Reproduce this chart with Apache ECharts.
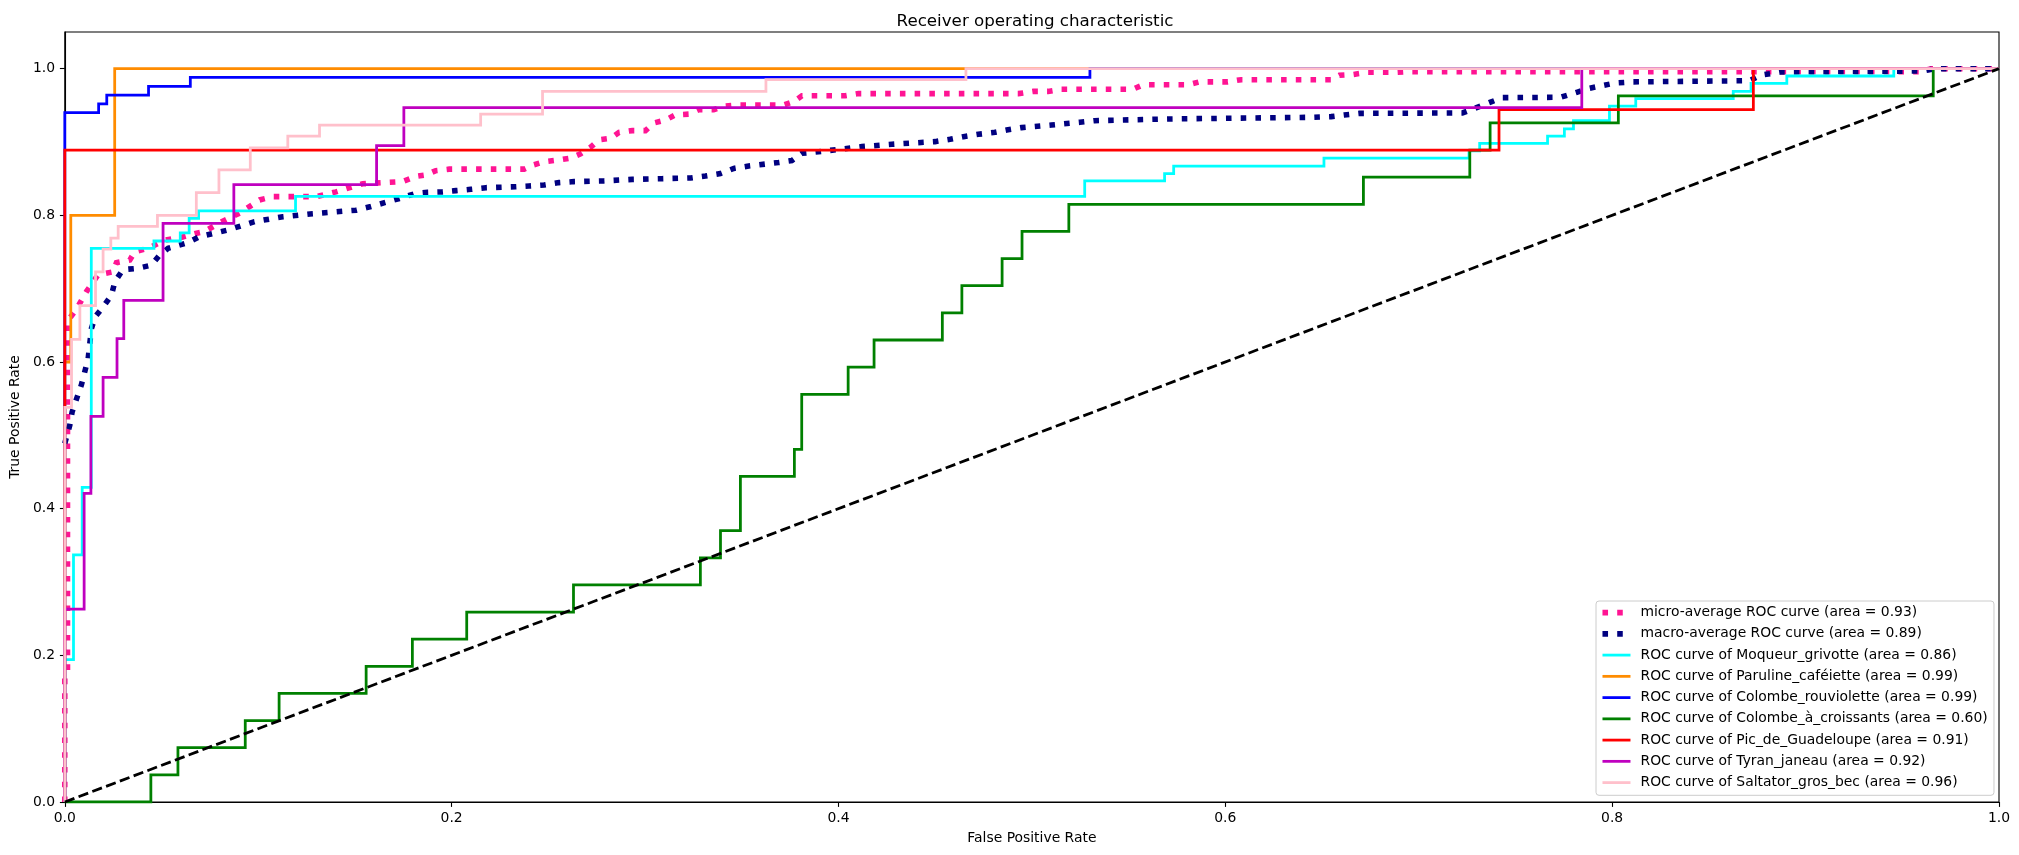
<!DOCTYPE html>
<html>
<head>
<meta charset="utf-8">
<script src="https://cdn.jsdelivr.net/npm/echarts@6/dist/echarts.min.js"></script>
<style>
html,body{margin:0;padding:0;background:#fff;}
#chart{width:2019px;height:855px;}
</style>
</head>
<body>
<div id="chart"></div>
<script>
// ---- data ----
const xTicks = [0, 0.2, 0.4, 0.6, 0.8, 1.0];
const yTicks = [0, 0.2, 0.4, 0.6, 0.8, 1.0];

const microFpr = [0,0,0.0014,0.0014,0.0026,0.006,0.0112,0.0172,0.025,0.0267,0.0336,0.0362,0.043,0.0517,0.061,0.0671,0.0723,0.0809,0.0904,0.1007,0.1076,0.13,0.1402,0.1489,0.154,0.1747,0.1815,0.1867,0.1918,0.1988,0.2375,0.2426,0.2478,0.2555,0.2615,0.2667,0.2719,0.2762,0.2822,0.2865,0.2934,0.3002,0.3046,0.3106,0.3157,0.3226,0.3278,0.3355,0.3415,0.3484,0.3717,0.3768,0.3811,0.4035,0.4104,0.493,0.5007,0.5084,0.5153,0.5523,0.5575,0.5807,0.5867,0.6013,0.6082,0.6547,0.659,0.6658,0.6736,0.6882,0.6942,0.96,0.965,1];
const microTpr = [0,0.17,0.18,0.655,0.66,0.672,0.696,0.719,0.723,0.7355,0.739,0.7505,0.755,0.766,0.7705,0.775,0.778,0.791,0.803,0.821,0.8255,0.8255,0.832,0.839,0.843,0.846,0.853,0.855,0.861,0.863,0.863,0.869,0.873,0.8755,0.878,0.884,0.893,0.903,0.905,0.913,0.9155,0.9155,0.926,0.930,0.937,0.938,0.944,0.944,0.949,0.9505,0.9505,0.955,0.963,0.963,0.966,0.966,0.969,0.969,0.972,0.972,0.978,0.978,0.982,0.982,0.985,0.985,0.991,0.992,0.995,0.995,0.996,0.996,1,1];

const macroFpr = [0,0.0009,0.0026,0.0038,0.0086,0.0121,0.0138,0.0158,0.0198,0.0241,0.0259,0.0301,0.0375,0.0448,0.0491,0.0534,0.0628,0.0697,0.0843,0.0981,0.1127,0.1282,0.1506,0.1583,0.173,0.1815,0.1876,0.1953,0.2022,0.2099,0.2177,0.2331,0.24,0.2478,0.2555,0.2633,0.2788,0.2934,0.3088,0.3235,0.3312,0.339,0.3459,0.3536,0.369,0.3759,0.3811,0.3897,0.4052,0.4121,0.4276,0.4499,0.4577,0.4646,0.4723,0.48,0.4869,0.4946,0.5101,0.5248,0.5325,0.5704,0.646,0.6547,0.6615,0.6693,0.7226,0.7286,0.7364,0.7433,0.7734,0.7817,0.7877,0.8016,0.8108,0.871,0.8766,0.887,0.9606,0.967,1];
const macroTpr = [0.489,0.4914,0.514,0.532,0.569,0.605,0.646,0.662,0.675,0.691,0.7096,0.726,0.7277,0.732,0.746,0.755,0.762,0.771,0.78,0.7914,0.798,0.8023,0.807,0.812,0.823,0.830,0.8314,0.832,0.8337,0.8355,0.8377,0.839,0.840,0.8414,0.8446,0.846,0.847,0.849,0.850,0.851,0.8537,0.857,0.864,0.8673,0.872,0.8746,0.8846,0.8868,0.8914,0.8937,0.8969,0.9005,0.9037,0.9073,0.9105,0.9128,0.9164,0.9196,0.9232,0.9269,0.9291,0.9314,0.9337,0.9346,0.9368,0.939,0.9396,0.9455,0.9537,0.9605,0.961,0.9678,0.973,0.9805,0.982,0.9836,0.991,0.9955,0.9968,1,1];

const moqueurFpr = [0,0,0.0045,0.0045,0.009,0.009,0.0137,0.0137,0.0461,0.0461,0.0597,0.0597,0.0643,0.0643,0.0692,0.0692,0.1193,0.1193,0.5273,0.5273,0.5686,0.5686,0.5733,0.5733,0.651,0.651,0.726,0.726,0.7315,0.7315,0.7666,0.7666,0.7753,0.7753,0.78,0.78,0.7986,0.7986,0.8122,0.8122,0.8626,0.8626,0.8718,0.8718,0.8903,0.8903,0.9456,0.9456,1];
const moqueurTpr = [0,0.194,0.194,0.337,0.337,0.429,0.429,0.755,0.755,0.765,0.765,0.776,0.776,0.796,0.796,0.806,0.806,0.826,0.826,0.847,0.847,0.857,0.857,0.867,0.867,0.878,0.878,0.888,0.888,0.898,0.898,0.908,0.908,0.918,0.918,0.929,0.929,0.949,0.949,0.959,0.959,0.969,0.969,0.980,0.980,0.990,0.990,1,1];

const parulineFpr = [0,0,0.0031,0.0031,0.0258,0.0258,1];
const parulineTpr = [0,0.6,0.6,0.8,0.8,1,1];

const rouvioletteFpr = [0,0,0.0175,0.0175,0.0217,0.0217,0.0433,0.0433,0.0649,0.0649,0.530,0.530,1];
const rouvioletteTpr = [0,0.940,0.940,0.952,0.952,0.964,0.964,0.976,0.976,0.988,0.988,1,1];

const croissantsFpr = [0,0.0445,0.0445,0.0585,0.0585,0.0933,0.0933,0.1108,0.1108,0.1558,0.1558,0.1797,0.1797,0.2078,0.2078,0.263,0.263,0.3286,0.3286,0.339,0.339,0.3493,0.3493,0.3772,0.3772,0.381,0.381,0.405,0.405,0.4184,0.4184,0.4537,0.4537,0.4638,0.4638,0.4846,0.4846,0.4949,0.4949,0.5191,0.5191,0.6714,0.6714,0.7264,0.7264,0.7369,0.7369,0.8032,0.8032,0.966,0.966,1];
const croissantsTpr = [0,0,0.037,0.037,0.074,0.074,0.111,0.111,0.148,0.148,0.185,0.185,0.222,0.222,0.259,0.259,0.296,0.296,0.333,0.333,0.370,0.370,0.444,0.444,0.481,0.481,0.556,0.556,0.593,0.593,0.630,0.630,0.667,0.667,0.704,0.704,0.741,0.741,0.778,0.778,0.815,0.815,0.852,0.852,0.889,0.889,0.926,0.926,0.963,0.963,1,1];

const picFpr = [0,0,0.7415,0.7415,0.873,0.873,1];
const picTpr = [0,0.889,0.889,0.944,0.944,1,1];

const tyranFpr = [0,0,0.010,0.010,0.0135,0.0135,0.0198,0.0198,0.027,0.027,0.0305,0.0305,0.0508,0.0508,0.0874,0.0874,0.1612,0.1612,0.1753,0.1753,0.7843,0.7843,1];
const tyranTpr = [0,0.263,0.263,0.421,0.421,0.526,0.526,0.579,0.579,0.632,0.632,0.684,0.684,0.789,0.789,0.842,0.842,0.895,0.895,0.947,0.947,1,1];

const saltatorFpr = [0,0,0.0035,0.0035,0.0078,0.0078,0.0159,0.0159,0.0198,0.0198,0.0238,0.0238,0.0276,0.0276,0.0479,0.0479,0.068,0.068,0.0797,0.0797,0.0959,0.0959,0.1153,0.1153,0.1317,0.1317,0.215,0.215,0.247,0.247,0.3625,0.3625,0.4659,0.4659,1];
const saltatorTpr = [0,0.538,0.538,0.631,0.631,0.677,0.677,0.723,0.723,0.754,0.754,0.769,0.769,0.785,0.785,0.8,0.8,0.831,0.831,0.862,0.862,0.892,0.892,0.908,0.908,0.923,0.923,0.938,0.938,0.969,0.969,0.985,0.985,1,1];

const diagX = [0, 1];
const diagY = [0, 1];

const curveNames = [
  'micro-average ROC curve (area = 0.93)',
  'macro-average ROC curve (area = 0.89)',
  'ROC curve of Moqueur_grivotte (area = 0.86)',
  'ROC curve of Paruline_caféiette (area = 0.99)',
  'ROC curve of Colombe_rouviolette (area = 0.99)',
  'ROC curve of Colombe_à_croissants (area = 0.60)',
  'ROC curve of Pic_de_Guadeloupe (area = 0.91)',
  'ROC curve of Tyran_janeau (area = 0.92)',
  'ROC curve of Saltator_gros_bec (area = 0.96)'
];
// ---- end data ----

const zip = (xs, ys) => xs.map((x, i) => [x, ys[i]]);
const FONT = 'DejaVu Sans';
const DOT = [5.56, 9.17];

function lineSeries(name, xs, ys, color, width, type) {
  return {
    name: name,
    type: 'line',
    data: zip(xs, ys),
    symbol: 'none',
    showSymbol: false,
    smooth: false,
    silent: true,
    clip: true,
    lineStyle: { color: color, width: width, type: type || 'solid', cap: 'butt', join: 'miter' },
    itemStyle: { color: color }
  };
}

const series = [
  lineSeries(curveNames[0], microFpr, microTpr, '#ff1493', 5.56, DOT),
  lineSeries(curveNames[1], macroFpr, macroTpr, '#000080', 5.56, DOT),
  lineSeries(curveNames[2], moqueurFpr, moqueurTpr, '#00ffff', 2.78),
  lineSeries(curveNames[3], parulineFpr, parulineTpr, '#ff8c00', 2.78),
  lineSeries(curveNames[4], rouvioletteFpr, rouvioletteTpr, '#0000ff', 2.78),
  lineSeries(curveNames[5], croissantsFpr, croissantsTpr, '#008000', 2.78),
  lineSeries(curveNames[6], picFpr, picTpr, '#ff0000', 2.78),
  lineSeries(curveNames[7], tyranFpr, tyranTpr, '#bf00bf', 2.78),
  lineSeries(curveNames[8], saltatorFpr, saltatorTpr, '#ffc0cb', 2.78),
  lineSeries('chance', diagX, diagY, '#000000', 2.78, [10.28, 4.44])
];

const chart = echarts.init(document.getElementById('chart'), null, { renderer: 'canvas' });
chart.setOption({
  animation: false,
  backgroundColor: '#ffffff',
  textStyle: { fontFamily: FONT, color: '#000' },
  title: {
    text: 'Receiver operating characteristic',
    left: 1030,
    top: 8,
    textAlign: 'center',
    textStyle: { fontFamily: FONT, fontSize: 16.7, fontWeight: 'normal', color: '#000' }
  },
  grid: {
    left: 61.6, right: 20, top: 32, bottom: 53,
    show: true, borderColor: '#000', borderWidth: 1.1, backgroundColor: 'transparent'
  },
  legend: {
    data: curveNames,
    orient: 'vertical',
    left: 1596,
    top: 601,
    padding: [4.6, 6.3, 5.7, 3.7],
    itemWidth: 28,
    itemHeight: 14,
    itemGap: 7.25,
    backgroundColor: 'rgba(255,255,255,0.8)',
    borderColor: '#cccccc',
    borderWidth: 1,
    borderRadius: 3,
    selectedMode: false,
    itemStyle: { opacity: 0 },
    lineStyle: { width: 'inherit', type: 'inherit', color: 'inherit', cap: 'butt' },
    textStyle: { fontFamily: FONT, fontSize: 13.9, color: '#000', padding: [0, 0, 0, 5] }
  },
  xAxis: {
    type: 'value',
    min: 0, max: 1, interval: 0.2,
    name: 'False Positive Rate',
    nameLocation: 'middle',
    nameGap: 29,
    nameTextStyle: { fontFamily: FONT, fontSize: 13.9, color: '#000' },
    axisLine: { show: true, lineStyle: { color: '#000', width: 1.1 } },
    axisTick: { show: true, inside: false, length: 4.9, lineStyle: { color: '#000', width: 1.1 }, customValues: xTicks },
    axisLabel: { show: true, margin: 9.8, fontFamily: FONT, fontSize: 13.9, color: '#000', customValues: xTicks, formatter: v => Number(v).toFixed(1) },
    splitLine: { show: false }
  },
  yAxis: {
    type: 'value',
    min: 0, max: 1.05, interval: 0.2,
    name: 'True Positive Rate',
    nameLocation: 'middle',
    nameGap: 40,
    nameTextStyle: { fontFamily: FONT, fontSize: 13.9, color: '#000' },
    axisLine: { show: true, lineStyle: { color: '#000', width: 1.1 } },
    axisTick: { show: true, inside: false, length: 4.9, lineStyle: { color: '#000', width: 1.1 }, customValues: yTicks },
    axisLabel: { show: true, margin: 9.8, showMaxLabel: true, fontFamily: FONT, fontSize: 13.9, color: '#000', customValues: yTicks, formatter: v => Number(v).toFixed(1) },
    splitLine: { show: false }
  },
  series: series
});
</script>
</body>
</html>
